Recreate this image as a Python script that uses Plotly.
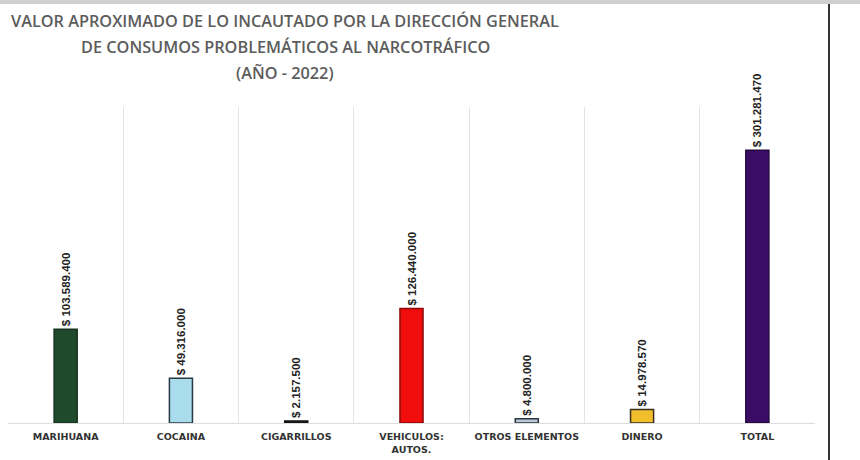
import plotly.graph_objects as go

categories = ["MARIHUANA", "COCAINA", "CIGARRILLOS", "VEHICULOS:<br>AUTOS.",
              "OTROS ELEMENTOS", "DINERO", "TOTAL"]
values = [103589400, 49316000, 2157500, 126440000, 4800000, 14978570, 301281470]
colors = ["#1f4a2b", "#a9dcec", "#222222", "#f20d0d", "#b8c6d6", "#f2bf2c", "#3a0c66"]
outlines = ["#16331e", "#2a3a44", "#111111", "#8a0a0a", "#2a3440", "#3a3020", "#26083f"]
title_lines = ["VALOR APROXIMADO DE LO INCAUTADO POR LA DIRECCIÓN GENERAL",
               "DE CONSUMOS PROBLEMÁTICOS AL NARCOTRÁFICO",
               "(AÑO - 2022)"]

fig = go.Figure(go.Bar(
    x=categories, y=values,
    marker=dict(color=colors, line=dict(color=outlines, width=1.5)),
    width=0.2,
    texttemplate="$ %{y:,.0f}",
    textposition="outside",
    textangle=-90,
    constraintext="none",
    cliponaxis=False,
    textfont=dict(family="Liberation Sans", size=11.5, color="#222222", weight="bold"),
))

W, H = 860, 460
l, r, t, b = 8, 45, 107, 37
fig.update_layout(
    width=W, height=H,
    margin=dict(l=l, r=r, t=t, b=b),
    paper_bgcolor="white", plot_bgcolor="white",
    separators=",.",
    showlegend=False,
    xaxis=dict(
        type="category", tickson="boundaries", showgrid=True,
        gridcolor="#e4e4e4", gridwidth=1, ticks="", ticklabelstandoff=5,
        automargin=False,
        showline=True, linecolor="#dddddd", linewidth=1, mirror=False,
        tickfont=dict(family="DejaVu Sans", size=9.5, color="#333333", weight="bold"),
        range=[-0.5, 6.5],
    ),
    yaxis=dict(range=[0, 349e6], showgrid=False, showticklabels=False,
               zeroline=False, showline=False, ticks="", automargin=False),
)

# title lines
title_y = [21, 47, 73]
for txt, yy in zip(title_lines, title_y):
    fig.add_annotation(text=txt, xref="paper", yref="paper",
                       x=(285 - l) / (W - l - r), y=1 + (t - yy) / (H - t - b),
                       xanchor="center", yanchor="middle", showarrow=False,
                       font=dict(family="Open Sans", size=16.3, color="#5c5c5c", weight=600))

pw = W - l - r
ph = H - t - b
fig.add_shape(type="line", xref="paper", yref="paper",
              x0=(829 - l) / pw, x1=(829 - l) / pw, y0=-b / ph, y1=1 + t / ph,
              line=dict(color="#333333", width=2))
fig.add_shape(type="line", xref="paper", yref="paper",
              x0=-l / pw, x1=(W - l) / pw, y0=1 + (t - 2) / ph, y1=1 + (t - 2) / ph,
              line=dict(color="#cfcfcf", width=4))

fig.write_html("out.html")
